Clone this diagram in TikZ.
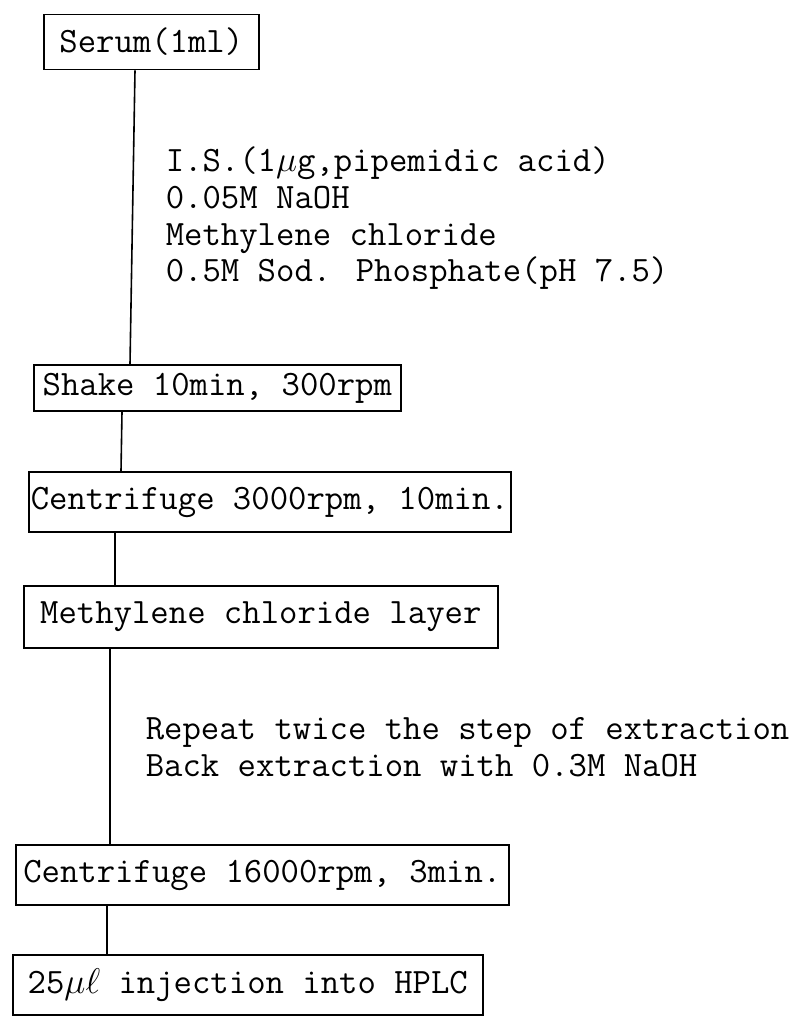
\RequirePackage{fix-cm}
\documentclass[tikz,border=0pt]{standalone}
\usepackage{tikz}
\usetikzlibrary{positioning}

\begin{document}
\begin{tikzpicture}[x=1pt,y=-1pt,line width=1.6pt,
      every node/.style={font=\fontsize{35.7}{36.8}\selectfont\ttfamily},
      proc/.style={draw,anchor=west,inner sep=0pt,align=center},
      note/.style={anchor=north west,align=left,inner sep=0pt}]
    \useasboundingbox (0,0) rectangle (791,1019);
    \node[proc,minimum width=215,minimum height=55] (serum) at (43,42)  {Serum(1ml)};
    \node[proc,minimum width=367,minimum height=46] (shake) at (33,388) {Shake 10min, 300rpm};
    \node[proc,minimum width=482,minimum height=60] (cfa)   at (28,502) {Centrifuge 3000rpm, 10min.};
    \node[proc,minimum width=474,minimum height=62] (layer) at (23,617) {Methylene chloride layer};
    \node[proc,minimum width=493,minimum height=60] (cfb)   at (15,875) {Centrifuge 16000rpm, 3min.};
    \node[proc,minimum width=470,minimum height=60] (inj)   at (12,985) {25$\mu\ell$ injection into HPLC};
    \node[note] (add1) at (165,146) {I.S.(1$\mu$g,pipemidic acid)\\0.05M NaOH\\Methylene chloride\\0.5M Sod. Phosphate(pH 7.5)};
    \node[note] (add2) at (145,717) {Repeat twice the step of extraction\\Back extraction with 0.3M NaOH};
    \draw ([xshift=92pt]serum.south west) -- ([xshift=97pt]shake.north west);
    \draw ([xshift=89pt]shake.south west) -- ([xshift=93pt]cfa.north west);
    \draw ([xshift=87pt]cfa.south west) -- ([xshift=92pt]layer.north west);
    \draw ([xshift=87pt]layer.south west) -- ([xshift=95pt]cfb.north west);
    \draw ([xshift=92pt]cfb.south west) -- ([xshift=95pt]inj.north west);
  \end{tikzpicture}
\end{document}
